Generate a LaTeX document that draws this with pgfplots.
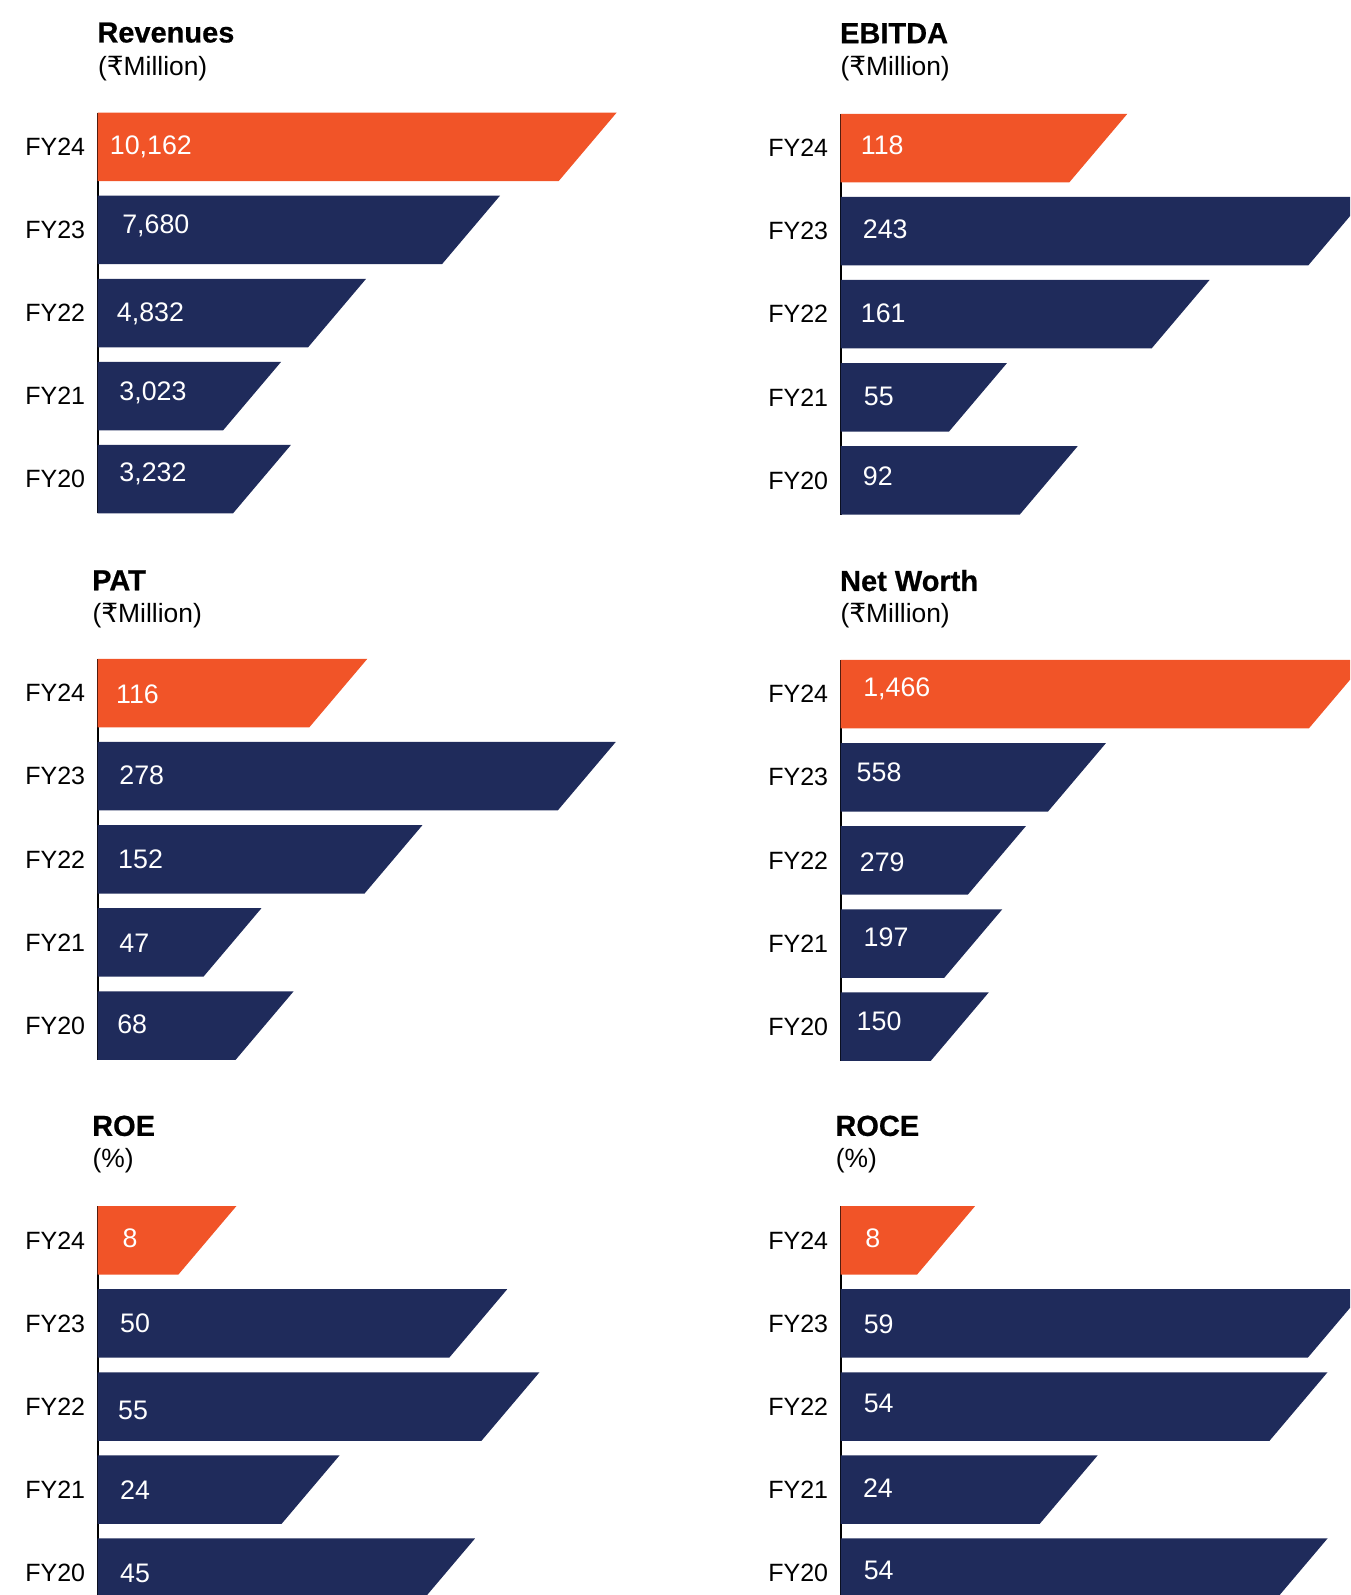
\documentclass[border=0pt]{standalone}
\usepackage{pgfplots}
\pgfplotsset{compat=1.18}
\usepackage{pgfplotstable}
\usepackage{fontspec}
\setmainfont{Liberation Sans}
\newfontfamily\rupee{DejaVu Sans}
\newfontfamily\titlefont[FakeBold=0.6]{Liberation Sans Bold}
\definecolor{orng}{HTML}{F15428}
\definecolor{navy}{HTML}{1F2B5B}

\newcommand\ticksize{\fontsize{12.5pt}{14pt}\selectfont}
\newcommand\valsize{\fontsize{13.4pt}{15pt}\selectfont}
\newcommand\titlesize{\fontsize{14.5pt}{17pt}\selectfont\titlefont}
\newcommand\subsize{\fontsize{13.2pt}{15pt}\selectfont}

% y: category (FY24=4 ... FY20=0), val: value, col: colour,
% off: label offset from axis (px), dy: label offset from bar centre (px, down), lab: label
\pgfplotstableread{
y val col off dy lab
4 10162 orng 12 -1.9 10,162
3 7680 navy 24.4 -5.7 7,680
2 4832 navy 19 -1.4 4,832
1 3023 navy 21.5 -4.9 3,023
0 3232 navy 21.5 -7.3 3,232
}\revtab
\pgfplotstableread{
y val col off dy lab
4 118 orng 20 -2.9 118
3 243 navy 22 -2.1 243
2 161 navy 20 -1.4 161
1 55 navy 23 -1.5 55
0 92 navy 22 -4.3 92
}\ebtab
\pgfplotstableread{
y val col off dy lab
4 116 orng 18.2 0.85 116
3 278 navy 21.5 -1.6 278
2 152 navy 20.3 0 152
1 47 navy 21.5 0 47
0 68 navy 19.4 -1.3 68
}\pattab
\pgfplotstableread{
y val col off dy lab
4 1466 orng 22.4 -7 1,466
3 558 navy 15.8 -5.3 558
2 279 navy 19 1.4 279
1 197 navy 22.8 -6.3 197
0 150 navy 15.8 -5.6 150
}\nwtab
\pgfplotstableread{
y val col off dy lab
4 8 orng 24.8 -2.7 8
3 50 navy 22.3 -1 50
2 55 navy 20.25 2.9 55
1 24 navy 22.3 0 24
0 45 navy 22.3 0 45
}\roetab
\pgfplotstableread{
y val col off dy lab
4 8 orng 24.4 -2.3 8
3 59 navy 22.9 0 59
2 54 navy 22.9 -3.6 54
1 24 navy 22.1 -1.5 24
0 54 navy 22.9 -3 54
}\rocetab

\newcommand\panelbars[1]{%
  \pgfplotsforeachungrouped \r in {0,...,4}{%
    \pgfplotstablegetelem{\r}{y}\of#1\let\cy\pgfplotsretval
    \pgfplotstablegetelem{\r}{val}\of#1\let\cv\pgfplotsretval
    \pgfplotstablegetelem{\r}{col}\of#1\let\cc\pgfplotsretval
    \pgfmathsetmacro\xlo{\cv-\hs}%
    \pgfmathsetmacro\xhi{\cv+\hs}%
    \pgfmathsetmacro\ylo{\cy-0.41215}%
    \pgfmathsetmacro\yhi{\cy+0.41215}%
    \edef\tmp{\noexpand\addplot[fill=\cc,draw=none] coordinates {(\pxmin,\ylo) (\xlo,\ylo) (\xhi,\yhi) (\pxmin,\yhi)} -- cycle;}%
    \tmp
  }}

% #1 axis x (px), #2 top of first bar (px), #3 width (px), #4 xmin, #5 px per unit, #6 table
\newcommand\panel[6]{%
  \pgfmathsetmacro\pxmin{#4}%
  \pgfmathsetmacro\pb{#5}%
  \pgfmathsetmacro\hs{29/#5}%
  \pgfmathsetmacro\pxmax{#4+#3/#5}%
  \pgfmathsetlengthmacro\pw{#3*0.5pt}%
  \begin{axis}[
    at={({#1*0.5pt},{(1595-#2)*0.5pt})}, anchor=north west,
    scale only axis, width=\pw, height=200.45pt,
    xmin=\pxmin, xmax=\pxmax, ymin=-0.41215, ymax=4.41215,
    axis x line=none, axis y line*=left,
    axis line style={line width=1pt, black},
    xtick=\empty, ytick={0,1,2,3,4},
    yticklabels={FY20,FY21,FY22,FY23,FY24},
    major tick length=0pt,
    yticklabel style={font=\ticksize, inner sep=0pt, xshift=-6pt, anchor=east, text=black},
    clip=false,
  ]
  \panelbars{#6}
  \addplot[draw=none, mark=none, nodes near coords, point meta=explicit symbolic,
    nodes near coords style={anchor=base west, inner sep=0pt, text=white, font=\valsize}]
    table[x expr={\pxmin+\thisrow{off}/\pb}, y expr={\thisrow{y}-(\thisrow{dy}+9.6)/83.1}, meta=lab] {#6};
  \end{axis}}

\newcommand\ttl[3]{%
  \node[anchor=base west, inner sep=0pt, font=\titlesize] at ({#1*0.5pt},{(1595-#2)*0.5pt}) {#3};}
\newcommand\sub[3]{%
  \node[anchor=base west, inner sep=0pt, font=\subsize] at ({#1*0.5pt},{(1595-#2)*0.5pt}) {#3};}

\begin{document}
\begin{tikzpicture}
\useasboundingbox (0,0) rectangle (675pt,797.5pt);
\clip (0,0) rectangle (675pt,797.5pt);

\panel{97.5}{112.6}{640}{-265.05}{0.04701}{\revtab}
\panel{840.5}{113.8}{509.5}{-16.93}{1.9112}{\ebtab}
\panel{97.5}{658.9}{640}{-41.0}{1.5336}{\pattab}
\panel{840.5}{660}{509.5}{-265.2}{0.28725}{\nwtab}
\panel{97.5}{1206.1}{640}{-9.04}{6.4486}{\roetab}
\panel{840.5}{1206.1}{509.5}{-5.78}{7.6614}{\rocetab}

\ttl{97}{42.5}{Revenues}
\sub{97.7}{75.4}{({\rupee ₹}Million)}
\ttl{839.7}{43.2}{EBITDA}
\sub{840.2}{75.4}{({\rupee ₹}Million)}
\ttl{91.75}{590.3}{PAT}
\sub{92.25}{622.6}{({\rupee ₹}Million)}
\ttl{839.7}{591}{Net Worth}
\sub{840.2}{622.6}{({\rupee ₹}Million)}
\ttl{91.75}{1135.9}{ROE}
\sub{92.25}{1168}{(\%)}
\ttl{835}{1135.9}{ROCE}
\sub{835.5}{1168}{(\%)}
\end{tikzpicture}
\end{document}
